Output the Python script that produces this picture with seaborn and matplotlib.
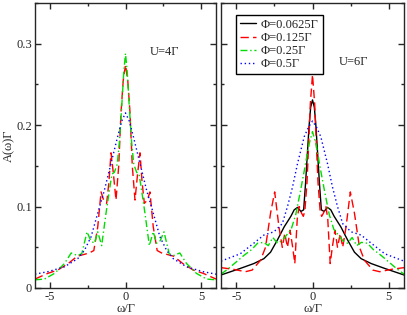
import numpy as np
import pandas as pd
import matplotlib
matplotlib.use("Agg")
import matplotlib.pyplot as plt
import seaborn as sns
from matplotlib import ticker

# spectra for omega >= 0, the curves are symmetric
# U = 4 Gamma
w4_red = [0, 0.15, 0.3, 0.45, 0.63, 0.8, 0.96, 1.1, 1.25, 1.45, 1.62, 1.84, 2.1, 2.4, 2.8, 3.2, 3.8, 4.5, 5.15, 6.0]
a4_red = [0.274, 0.255, 0.215, 0.15, 0.108, 0.14, 0.166, 0.13, 0.104, 0.108, 0.118, 0.075, 0.046, 0.043, 0.041, 0.039, 0.030, 0.022, 0.018, 0.011]
w4_green = [0, 0.12, 0.25, 0.41, 0.55, 0.74, 0.9, 1.05, 1.29, 1.45, 1.58, 1.84, 2.06, 2.3, 2.55, 2.9, 3.2, 3.6, 4.05, 4.7, 5.37, 6.0]
a4_green = [0.288, 0.264, 0.223, 0.178, 0.152, 0.142, 0.14, 0.122, 0.092, 0.07, 0.052, 0.069, 0.055, 0.058, 0.069, 0.042, 0.040, 0.043, 0.030, 0.018, 0.011, 0.010]
w4_blue = [0, 0.25, 0.52, 0.96, 1.4, 1.84, 2.28, 2.73, 3.17, 4.05, 5.15, 6.0]
a4_blue = [0.215, 0.205, 0.186, 0.153, 0.12, 0.092, 0.063, 0.046, 0.036, 0.026, 0.020, 0.017]

# U = 6 Gamma
w6_black = [0, 0.12, 0.22, 0.32, 0.45, 0.58, 0.76, 0.98, 1.2, 1.42, 1.86, 2.3, 2.75, 3.19, 3.85, 4.74, 6.0]
a6_black = [0.231, 0.222, 0.20, 0.17, 0.13, 0.096, 0.094, 0.099, 0.096, 0.088, 0.075, 0.059, 0.044, 0.036, 0.030, 0.024, 0.016]
w6_red = [0, 0.14, 0.25, 0.36, 0.5, 0.6, 0.72, 0.88, 1.0, 1.16, 1.3, 1.47, 1.64, 1.82, 1.98, 2.2, 2.48, 2.75, 3.08, 3.41, 3.96, 4.4, 5.2, 6.0]
a6_red = [0.262, 0.227, 0.178, 0.13, 0.095, 0.088, 0.092, 0.10, 0.085, 0.03, 0.05, 0.071, 0.05, 0.067, 0.05, 0.075, 0.118, 0.092, 0.05, 0.034, 0.022, 0.020, 0.023, 0.025]
w6_green = [0, 0.25, 0.5, 0.8, 1.1, 1.4, 1.7, 2.0, 2.3, 2.6, 2.9, 3.2, 3.6, 4.0, 4.5, 5.0, 5.5, 6.0]
a6_green = [0.192, 0.175, 0.148, 0.118, 0.09, 0.072, 0.065, 0.058, 0.055, 0.062, 0.052, 0.056, 0.055, 0.047, 0.040, 0.032, 0.024, 0.017]
w6_blue = [0, 0.25, 0.54, 0.98, 1.31, 1.64, 1.98, 2.53, 3.19, 3.85, 4.74, 6.0]
a6_blue = [0.205, 0.198, 0.186, 0.153, 0.124, 0.10, 0.079, 0.069, 0.065, 0.055, 0.042, 0.033]

phi_labels = ["Φ=0.0625Γ", "Φ=0.125Γ", "Φ=0.25Γ", "Φ=0.5Γ"]
colors = ["black", "#ff0000", "#00dd00", "#0000ff"]
styles = ["-", (0, (6, 3)), (0, (5, 2, 1, 2)), (0, (1, 2))]


def mirror(w, a):
    w = np.asarray(w, dtype=float)
    a = np.asarray(a, dtype=float)
    return pd.DataFrame({"w": np.concatenate([-w[::-1][:-1], w]),
                         "A": np.concatenate([a[::-1][:-1], a])})


sns.set_style("ticks")
plt.rcParams['font.family'] = ['Liberation Serif', 'DejaVu Serif']
plt.rcParams['axes.unicode_minus'] = False
plt.rcParams['font.size'] = 9

fig = plt.figure(figsize=(4.07, 3.15), dpi=100)
ax1 = fig.add_axes([35 / 407, 1 - 288 / 315, 181 / 407, 285 / 315])
ax2 = fig.add_axes([221 / 407, 1 - 288 / 315, 183 / 407, 285 / 315])

left = [None, (w4_red, a4_red), (w4_green, a4_green), (w4_blue, a4_blue)]
right = [(w6_black, a6_black), (w6_red, a6_red), (w6_green, a6_green), (w6_blue, a6_blue)]

for i, curve in enumerate(left):
    if curve is None:
        continue
    sns.lineplot(data=mirror(*curve), x="w", y="A", ax=ax1, color=colors[i],
                 linestyle=styles[i], lw=1, estimator=None, sort=False)
for i, curve in enumerate(right):
    sns.lineplot(data=mirror(*curve), x="w", y="A", ax=ax2, color=colors[i],
                 linestyle=styles[i], lw=1, estimator=None, sort=False,
                 label=phi_labels[i])

for ax in (ax1, ax2):
    ax.set_xlim(-6, 6)
    ax.set_ylim(0, 0.35)
    ax.xaxis.set_major_locator(ticker.MultipleLocator(5))
    ax.xaxis.set_minor_locator(ticker.MultipleLocator(2.5))
    ax.yaxis.set_major_locator(ticker.MultipleLocator(0.1))
    ax.yaxis.set_minor_locator(ticker.MultipleLocator(0.05))
    ax.tick_params(which='both', direction='in', top=True, right=True, width=1)
    ax.tick_params(which='major', length=4.5, labelsize=9, pad=2)
    ax.tick_params(which='minor', length=2.3)
    for s in ax.spines.values():
        s.set_linewidth(1)
    ax.set_xlabel("ω/Γ", fontsize=9, labelpad=0)

ax1.yaxis.set_major_formatter(ticker.FormatStrFormatter('%g'))
ax1.set_ylabel("A(ω)Γ", fontsize=9, labelpad=1)
ax2.set_ylabel("")
ax2.set_yticklabels([])

ax1.text(1.6, 0.29, "U=4Γ", fontsize=9, va='center', ha='left')
ax2.text(1.7, 0.278, "U=6Γ", fontsize=9, va='center', ha='left')

leg = ax2.legend(loc='upper left', bbox_to_anchor=(0.082, 0.958), fontsize=9,
                 frameon=True, fancybox=False, handlelength=1.3, handletextpad=0.4,
                 labelspacing=0.1, borderpad=0.3, borderaxespad=0)
leg.get_frame().set_edgecolor('black')
leg.get_frame().set_linewidth(1)
leg.get_frame().set_alpha(1)

fig.savefig("out.png", dpi=100)
